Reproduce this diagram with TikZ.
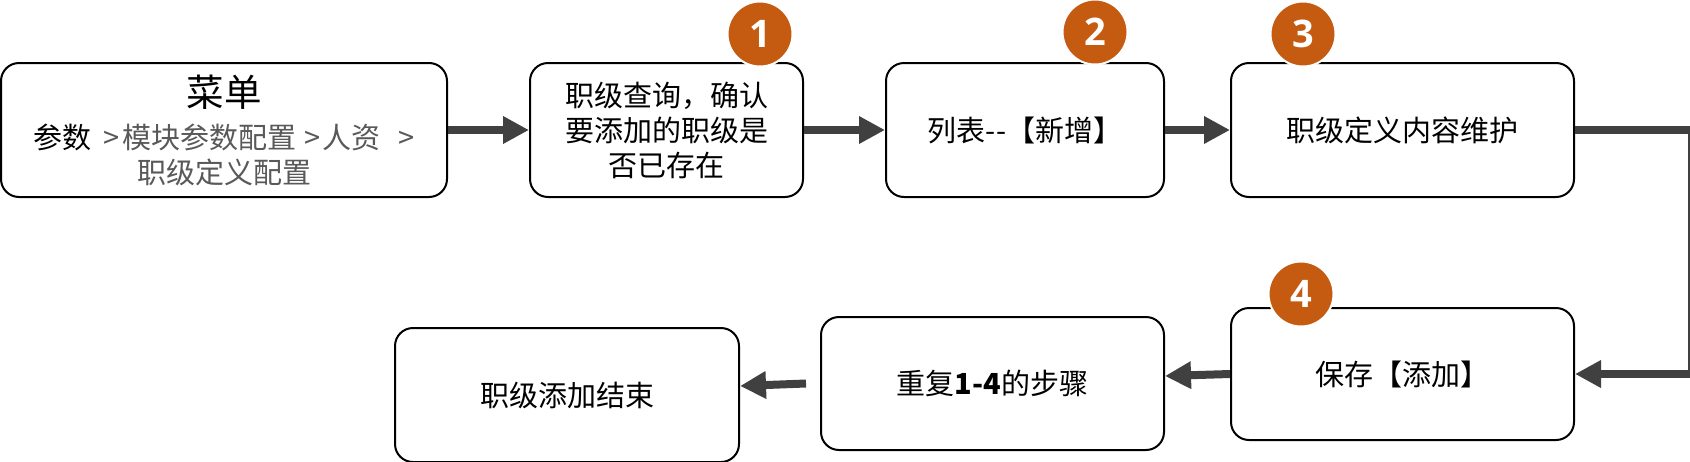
\documentclass[tikz,border=0pt]{standalone}
\usepackage{fontspec}
\setmainfont{Noto Sans CJK SC}[Ligatures=TeXOff]
\newfontfamily\numfont{Open Sans}
\usepackage{xcolor}
\usetikzlibrary{positioning}
\usetikzlibrary{arrows.meta,calc}
\definecolor{badgeorange}{HTML}{C55A11}
\definecolor{arrowgray}{HTML}{404040}
\definecolor{pathgray}{HTML}{595959}

\begin{document}
\begin{tikzpicture}[
    basic/.style={draw,line width=1pt,rounded corners=9pt,fill=white,align=center,inner sep=0pt,font=\fontsize{14.5pt}{17.5pt}\selectfont},
    box/.style={basic,minimum width=#1,minimum height=67pt},
    badge/.style={circle,fill=badgeorange,draw=white,line width=1pt,minimum size=32.5pt,inner sep=0pt,text=white,font=\numfont\bfseries\fontsize{19pt}{19pt}\selectfont},
    arrow/.style={draw=arrowgray,line width=4pt,-{Triangle[length=13pt,width=13pt]}},
]
\useasboundingbox (0,0) rectangle (845pt,-230.5pt);
        \node[box=223pt] (menu) at (112pt,-65pt) {{\fontsize{18.75pt}{22pt}\selectfont 菜单}\\[3.5pt]
            参数\hspace{6pt}\textcolor{pathgray}{>\hspace{1.5pt}模块参数配置\hspace{4pt}>\hspace{1pt}人资\hspace{9pt}>}\\ \textcolor{pathgray}{职级定义配置}};
        \node[box=136.5pt,right=40.5pt of menu] (query) {职级查询，确认\\要添加的职级是\\否已存在};
            \path[arrow] (menu) -- (query);
        \node[box=139pt,right=40.5pt of query] (list) {列表--【新增】};
            \path[arrow] (query) -- (list);
        \node[box=171.5pt,right=32.5pt of list] (define) {职级定义内容维护};
            \path[arrow] (list) -- (define);
        \node[box=171.5pt,minimum height=66pt,below=54.5pt of define] (save) {保存【添加】};
            \path[arrow] (define.east) -- ++(58.5pt,0) |- (save.east);
        \node[box=171.5pt,minimum height=66.5pt,left=32.5pt of save,yshift=-4.75pt] (repeat) {重复\textbf{1-4}的步骤};
            \path[arrow] (save.west) -- ([yshift=3.75pt]repeat.east);
        \node[box=172pt,left=40pt of repeat,yshift=-5.75pt] (finish) {职级添加结束};
            \path[arrow] ([xshift=-7pt]repeat.west) -- ([yshift=4.5pt]finish.east);
% step numbers
        \node[badge] (n1) at ([xshift=-22pt,yshift=14pt]query.north east) {1};
        \node[badge] (n2) at ([xshift=-35pt,yshift=15pt]list.north east) {2};
        \node[badge] (n3) at ([xshift=36.5pt,yshift=14pt]define.north west) {3};
        \node[badge] (n4) at ([xshift=35.5pt,yshift=6.5pt]save.north west) {4};
\end{tikzpicture}
\end{document}
